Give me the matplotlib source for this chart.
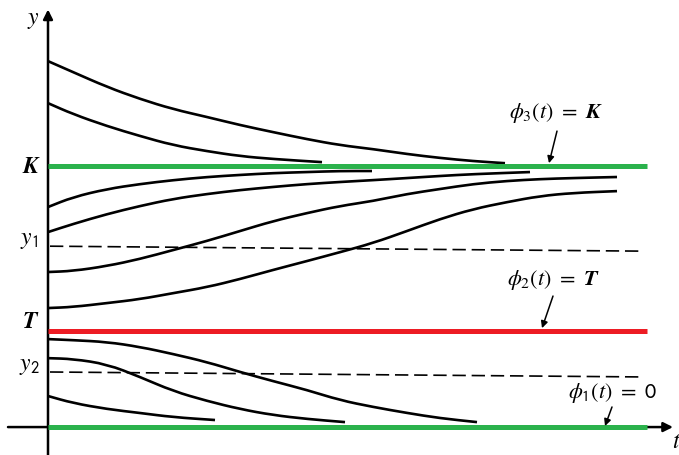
import matplotlib
matplotlib.use("Agg")
import matplotlib.pyplot as plt
from matplotlib.path import Path
from matplotlib.patches import PathPatch

plt.rcParams['mathtext.fontset'] = 'stix'
plt.rcParams['font.family'] = ['STIXGeneral', 'DejaVu Serif']

# equilibrium levels
K = 1.0
T = 0.368
zero = 0.0
y1_ends = [0.693, 0.674]
y2_ends = [0.211, 0.192]
line_end = 5.99

# solutions above K
t_e = [0, 0.25, 0.59, 0.92, 1.25, 1.59, 1.92, 2.25, 2.59, 2.92, 3.25, 3.59, 3.92, 4.25, 4.57]
y_e = [1.402, 1.360, 1.303, 1.257, 1.218, 1.188, 1.157, 1.130, 1.103, 1.080, 1.065, 1.046, 1.031, 1.019, 1.011]
t_f = [0, 0.25, 0.59, 0.92, 1.25, 1.59, 1.92, 2.25, 2.74]
y_f = [1.241, 1.199, 1.153, 1.115, 1.080, 1.057, 1.038, 1.027, 1.015]

# solutions between T and K
t_a = [0, 0.25, 0.59, 0.92, 1.25, 1.59, 1.92, 2.25, 2.59, 2.92, 3.24]
y_a = [0.843, 0.881, 0.912, 0.931, 0.946, 0.958, 0.966, 0.973, 0.977, 0.981, 0.981]
t_b = [0, 0.25, 0.59, 0.92, 1.25, 1.59, 1.92, 2.25, 2.59, 2.92, 3.25, 3.59, 3.92, 4.25, 4.82]
y_b = [0.747, 0.778, 0.816, 0.847, 0.874, 0.893, 0.908, 0.920, 0.931, 0.939, 0.946, 0.954, 0.962, 0.969, 0.977]
t_c = [0, 0.25, 0.59, 0.92, 1.25, 1.59, 1.92, 2.25, 2.59, 2.92, 3.25, 3.59, 3.92, 4.25, 4.59, 4.92, 5.25, 5.69]
y_c = [0.594, 0.598, 0.617, 0.644, 0.678, 0.713, 0.751, 0.789, 0.820, 0.847, 0.866, 0.893, 0.912, 0.931, 0.943, 0.950, 0.954, 0.958]
t_d = [0, 0.25, 0.59, 0.92, 1.25, 1.59, 1.92, 2.25, 2.59, 2.92, 3.25, 3.59, 3.92, 4.25, 4.59, 4.92, 5.25, 5.69]
y_d = [0.456, 0.460, 0.475, 0.490, 0.513, 0.536, 0.567, 0.602, 0.636, 0.670, 0.705, 0.751, 0.797, 0.835, 0.862, 0.885, 0.897, 0.904]

# solutions between 0 and T
t_g = [0, 0.25, 0.59, 0.92, 1.25, 1.59, 1.92, 2.25, 2.59, 2.92, 3.25, 3.59, 3.92, 4.29]
y_g = [0.337, 0.333, 0.326, 0.307, 0.280, 0.249, 0.211, 0.176, 0.142, 0.103, 0.077, 0.054, 0.034, 0.019]
t_h = [0, 0.25, 0.59, 0.92, 1.25, 1.59, 1.92, 2.25, 2.59, 2.97]
y_h = [0.264, 0.261, 0.241, 0.192, 0.138, 0.100, 0.069, 0.046, 0.031, 0.019]
t_i = [0, 0.25, 0.59, 0.92, 1.25, 1.67]
y_i = [0.119, 0.092, 0.069, 0.054, 0.038, 0.027]

green = '#2bb24c'
red = '#ed1c24'


def smooth_curve(ax, tt, yy, **kw):
    # quadratic bezier through segment midpoints, read points act as controls
    pts = list(zip(tt, yy))
    verts = [pts[0]]
    codes = [Path.MOVETO]
    for k in range(1, len(pts) - 1):
        mid = ((pts[k][0] + pts[k + 1][0]) / 2, (pts[k][1] + pts[k + 1][1]) / 2)
        if k == 1:
            verts.append(((pts[0][0] + pts[1][0]) / 2, (pts[0][1] + pts[1][1]) / 2))
            codes.append(Path.LINETO)
        verts += [pts[k], mid]
        codes += [Path.CURVE3, Path.CURVE3]
    verts.append(pts[-1])
    codes.append(Path.LINETO)
    ax.add_patch(PathPatch(Path(verts, codes), fill=False, **kw))


fig = plt.figure(figsize=(6.79, 4.56), dpi=100)
ax = fig.add_axes([0, 0, 1, 1])
ax.set_xlim(-0.48, 6.31)
ax.set_ylim(-0.107, 1.640)
ax.axis('off')

# axes with arrows
ax.annotate('', xy=(0, 1.60), xytext=(0, -0.107),
            arrowprops=dict(arrowstyle='-|>', lw=1.8, color='black', mutation_scale=14, shrinkA=0, shrinkB=0))
ax.annotate('', xy=(6.25, zero), xytext=(-0.40, zero),
            arrowprops=dict(arrowstyle='-|>', lw=1.8, color='black', mutation_scale=14, shrinkA=0, shrinkB=0))

# dashed inflection levels
ax.plot([0.02, 5.95], y1_ends, color='black', lw=1.2, dashes=(8, 3.5))
ax.plot([0.02, 5.95], y2_ends, color='black', lw=1.2, dashes=(8, 3.5))

# equilibrium solutions
ax.plot([0, line_end], [K, K], color=green, lw=3.6, solid_capstyle='butt', zorder=3)
ax.plot([0, line_end], [T, T], color=red, lw=3.6, solid_capstyle='butt', zorder=3)
ax.plot([0, line_end], [zero, zero], color=green, lw=3.6, solid_capstyle='butt', zorder=3)

for tt, yy in [(t_e, y_e), (t_f, y_f), (t_a, y_a), (t_b, y_b), (t_c, y_c),
               (t_d, y_d), (t_g, y_g), (t_h, y_h), (t_i, y_i)]:
    smooth_curve(ax, tt, yy, edgecolor='black', lw=1.9, capstyle='butt', zorder=2)

# axis labels
ax.text(-0.15, 1.563, r'$y$', fontsize=17, ha='center', va='center')
ax.text(6.28, -0.054, r'$t$', fontsize=17, ha='center', va='center')
ax.text(-0.18, K, 'K', fontsize=17, style='italic', weight='bold', ha='center', va='center')
ax.text(-0.18, 0.405, 'T', fontsize=17, style='italic', weight='bold', ha='center', va='center')
ax.text(-0.19, 0.72, r'$y_{\mathsf{1}}$', fontsize=17, ha='center', va='center')
ax.text(-0.19, 0.236, r'$y_{\mathsf{2}}$', fontsize=17, ha='center', va='center')

# annotations
arrow = dict(arrowstyle='-|>', lw=1.1, color='black', mutation_scale=10, shrinkA=0, shrinkB=0)
ax.text(5.08, 1.207, r'$\phi_3(t)\ =\ \mathbfit{K}$', fontsize=16, ha='center', va='center')
ax.annotate('', xy=(5.01, 1.011), xytext=(5.09, 1.134), arrowprops=arrow)
ax.text(5.05, 0.567, r'$\phi_2(t)\ =\ \mathbfit{T}$', fontsize=16, ha='center', va='center')
ax.annotate('', xy=(4.94, 0.379), xytext=(5.05, 0.502), arrowprops=arrow)
ax.text(5.64, 0.134, r'$\phi_{\mathsf{1}}(t)\ =\ \mathsf{0}$', fontsize=16, ha='center', va='center')
ax.annotate('', xy=(5.57, 0.004), xytext=(5.64, 0.077), arrowprops=arrow)

fig.savefig('out.png', dpi=100)
